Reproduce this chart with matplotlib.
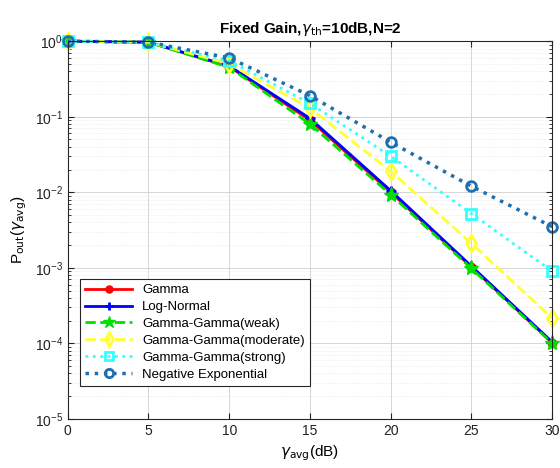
import matplotlib
matplotlib.use("Agg")
import matplotlib.pyplot as plt
from matplotlib.ticker import LogLocator, NullFormatter, FixedLocator

plt.rcParams['font.family'] = ['Liberation Sans', 'DejaVu Sans']

snr_db = [0, 5, 10, 15, 20, 25, 30]
gamma = [1.0, 0.97, 0.46, 0.090, 0.0100, 0.00102, 0.000102]
log_normal = [1.0, 0.97, 0.47, 0.095, 0.0105, 0.00105, 0.000104]
gg_weak = [1.0, 0.97, 0.45, 0.080, 0.0093, 0.00098, 0.000100]
gg_moderate = [1.0, 0.97, 0.50, 0.130, 0.0190, 0.00210, 0.000215]
gg_strong = [1.0, 0.97, 0.55, 0.150, 0.0300, 0.00520, 0.000900]
neg_exp = [1.0, 0.97, 0.60, 0.190, 0.0460, 0.01200, 0.003500]

fig = plt.figure(figsize=(5.6, 4.68), dpi=100)
ax = fig.add_axes([0.121, 0.105, 0.865, 0.807])

common = dict(clip_on=False)
ax.semilogy(snr_db, gamma, '-o', color='red', lw=2, ms=6, mfc='red', mec='red', label='Gamma', **common)
ax.semilogy(snr_db, log_normal, '-+', color='blue', lw=2, ms=7, mew=2, label='Log-Normal', **common)
ax.semilogy(snr_db, gg_weak, '--*', color='#00e000', lw=2, ms=11, mfc='#00e000', mec='#00e000',
            label='Gamma-Gamma(weak)', **common)
ax.semilogy(snr_db, gg_moderate, '--d', color='#ffff33', lw=2, ms=8, mfc='none', mew=2, mec='#ffff33',
            label='Gamma-Gamma(moderate)', **common)
ax.semilogy(snr_db, gg_strong, ':s', color='#33ffff', lw=2, ms=7, mfc='none', mew=2, mec='#33ffff',
            label='Gamma-Gamma(strong)', **common)
ax.semilogy(snr_db, neg_exp, ':o', color='#1f6fb0', lw=2.5, ms=7, mfc='none', mew=2, mec='#1f6fb0',
            label='Negative Exponential', **common)

ax.set_xlim(0, 30)
ax.set_ylim(1e-5, 1.0)
ax.xaxis.set_major_locator(FixedLocator(snr_db))
ax.yaxis.set_major_locator(LogLocator(base=10, numticks=10))
ax.yaxis.set_minor_locator(LogLocator(base=10, subs=range(2, 10), numticks=20))
ax.yaxis.set_minor_formatter(NullFormatter())

ax.grid(True, which='major', color='#d0d0d0', lw=0.6)
ax.grid(True, which='minor', axis='y', color='#e2e2e2', lw=0.5, ls=':')
ax.tick_params(which='both', direction='in', top=True, right=True, labelsize=10, colors='#222222')
ax.tick_params(which='major', length=4)
ax.tick_params(which='minor', length=2)
for s in ax.spines.values():
    s.set_color('#262626')
    s.set_linewidth(0.8)

ax.set_title(r'Fixed Gain,$\gamma_{\mathrm{th}}$=10dB,N=2', fontsize=11, fontweight='bold', pad=6)
ax.set_xlabel(r'$\gamma_{\mathrm{avg}}$(dB)', fontsize=11)
ax.set_ylabel(r'P$_{\mathrm{out}}$($\gamma_{\mathrm{avg}}$)', fontsize=11)

leg = ax.legend(loc='lower left', bbox_to_anchor=(0.012, 0.07), fontsize=9.5, frameon=True,
                fancybox=False, edgecolor='#262626', framealpha=1, handlelength=3.5,
                borderpad=0.4, labelspacing=0.35, markerscale=0.85)
leg.get_frame().set_linewidth(0.8)

fig.savefig('out.png', dpi=100)
